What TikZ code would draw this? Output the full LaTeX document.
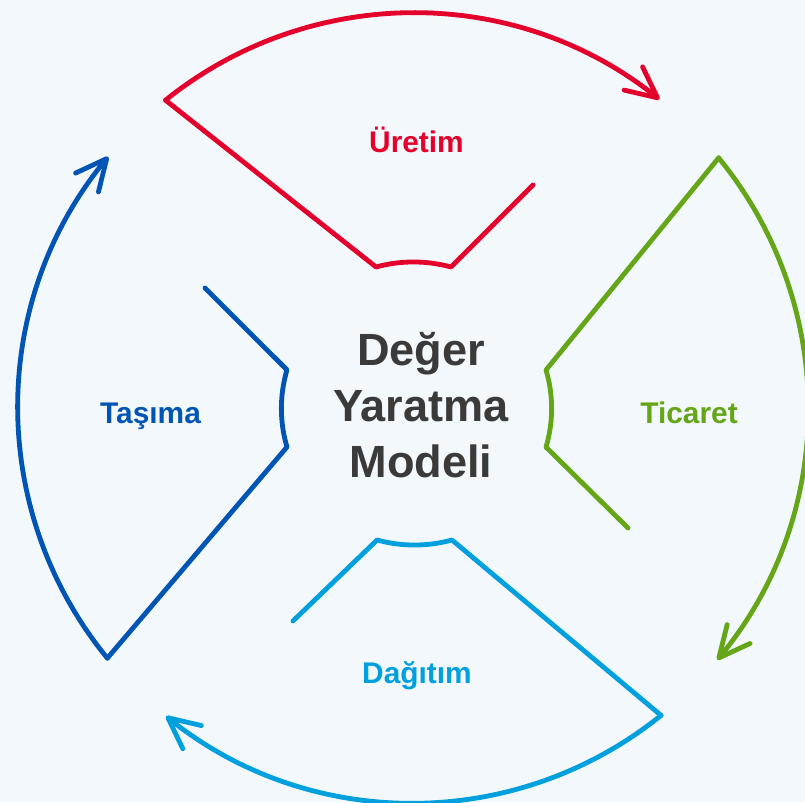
\documentclass[tikz,border=0pt]{standalone}
\usepackage{fontspec}
\setmainfont{Liberation Sans}
\usetikzlibrary{arrows.meta}
\definecolor{modelbg}{RGB}{243,248,252}
\definecolor{modeltext}{RGB}{58,58,58}
\definecolor{modelred}{RGB}{228,0,43}
\definecolor{modelgreen}{RGB}{100,166,24}
\definecolor{modelblue}{RGB}{0,84,180}
\definecolor{modelcyan}{RGB}{0,160,222}

\begin{document}
\begin{tikzpicture}[x=0.03cm,y=0.03cm]
    % Define styles
    \tikzstyle{sectorline} = [line width=4.1pt, line cap=round, line join=round]
    \tikzstyle{flowarc} = [sectorline, -{Straight Barb[length=0.93cm, width=0.89cm, round]}]
    \tikzstyle{sectorlabel} = [font=\bfseries\fontsize{25.5}{30}\selectfont, anchor=base]

    % Background
    \useasboundingbox (-413,-394) rectangle (392,408);
    \fill[modelbg] (-413,-394) rectangle (392,408);

    % Uretim (top)
    \draw[flowarc, modelred] (128.8:395) arc[start angle=128.8, end angle=51.4, radius=395];
    \draw[sectorline, modelred] (128.8:395) -- (-37,141) arc[start angle=105.3, end angle=74.7, radius=142] -- (120,223);

    % Ticaret (right)
    \draw[flowarc, modelgreen] (39.3:395) arc[start angle=39.3, end angle=-39.6, radius=395];
    \draw[sectorline, modelgreen] (39.3:395) -- (133,38) arc[start angle=16.6, end angle=-16.6, radius=135] -- (215,-120);

    % Dagitim (bottom)
    \draw[flowarc, modelcyan] (-51.1:395) arc[start angle=-51.1, end angle=-128.7, radius=395];
    \draw[sectorline, modelcyan] (-51.1:395) -- (39,-132) arc[start angle=-74.7, end angle=-105.3, radius=142] -- (-120,-213);

    % Tasima (left)
    \draw[flowarc, modelblue] (219.3:395) arc[start angle=219.3, end angle=140.5, radius=395];
    \draw[sectorline, modelblue] (219.3:395) -- (-126,-39) arc[start angle=196.6, end angle=163.4, radius=135] -- (-208,120);

    % Labels
    \node (model) [font=\bfseries\fontsize{38.5}{47.8}\selectfont, text=modeltext, align=center] at (8,3) {Değer\\Yaratma\\Modeli};
    \node (uretim) [sectorlabel, text=modelred] at (3.5,255) {Üretim};
    \node (ticaret) [sectorlabel, text=modelgreen] at (276,-15) {Ticaret};
    \node (dagitim) [sectorlabel, text=modelcyan] at (4,-275) {Dağıtım};
    \node (tasima) [sectorlabel, text=modelblue] at (-262.5,-15) {Taşıma};
\end{tikzpicture}
\end{document}
